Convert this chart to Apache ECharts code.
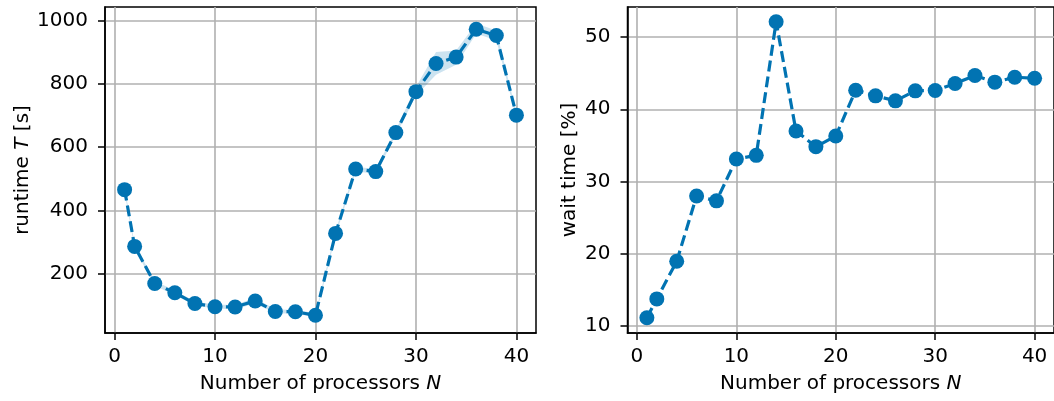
<!DOCTYPE html>
<html>
<head>
<meta charset="utf-8">
<script src="https://cdn.jsdelivr.net/npm/echarts@6/dist/echarts.min.js"></script>
<style>
  html, body { margin: 0; padding: 0; background: #fff; }
  #chart { width: 1054px; height: 401px; }
</style>
</head>
<body>
<div id="chart"></div>
<script>
// Number of processors used in each run
const processors = [1, 2, 4, 6, 8, 10, 12, 14, 16, 18, 20, 22, 24, 26, 28, 30, 32, 34, 36, 38, 40];

// Mean runtime in seconds, with the lower / upper edge of its spread
const runtime     = [466, 287, 170, 141, 107, 97, 96, 115, 82, 81, 70, 328, 531, 523, 646, 775, 864, 884, 972, 952, 701];
const runtimeLow  = [458, 280, 163, 134, 101, 91, 89, 107, 76, 75, 64, 320, 524, 515, 638, 762, 828, 860, 958, 937, 693];
const runtimeHigh = [474, 294, 178, 148, 113, 103, 103, 124, 88, 87, 76, 336, 538, 531, 654, 790, 900, 905, 990, 968, 709];

// Share of the runtime spent waiting, in percent
const waitTime = [11.15, 13.77, 18.97, 28.0, 27.33, 33.13, 33.63, 52.1, 36.99, 34.83, 36.3,
                  42.64, 41.86, 41.17, 42.55, 42.6, 43.56, 44.67, 43.75, 44.44, 44.3];

// Tick labels
const xTicks = [0, 10, 20, 30, 40];
const runtimeTicks = [200, 400, 600, 800, 1000];
const waitTicks = [10, 20, 30, 40, 50];

const BLUE = '#0173b2';
const FONT = 'DejaVu Sans';
const FS = 20;

const pairs = (xs, ys) => xs.map((x, i) => [x, ys[i]]);

const nameStyle = {
  fontFamily: FONT, fontSize: FS, color: '#000',
  rich: { i: { fontFamily: FONT, fontSize: FS, fontStyle: 'italic', color: '#000' } }
};
const spine = { color: '#000', width: 1.5 };
const gridLine = { show: true, lineStyle: { color: '#b0b0b0', width: 1.6 } };

function xAxisFor(gridIndex) {
  return {
    gridIndex,
    type: 'value',
    min: -0.95,
    max: 41.95,
    name: 'Number of processors {i|N}',
    nameLocation: 'middle',
    nameGap: 41,
    nameTextStyle: nameStyle,
    axisLine: { show: true, onZero: false, lineStyle: spine },
    axisTick: { show: true, length: 7, customValues: xTicks, lineStyle: spine },
    axisLabel: { customValues: xTicks, margin: 14, fontFamily: FONT, fontSize: FS, color: '#000' },
    splitLine: gridLine
  };
}

function yAxisFor(gridIndex, min, max, ticks, name, nameGap) {
  return {
    gridIndex,
    type: 'value',
    min, max,
    name,
    nameLocation: 'middle',
    nameGap,
    nameRotate: 90,
    nameTextStyle: nameStyle,
    axisLine: { show: true, onZero: false, lineStyle: spine },
    axisTick: { show: true, length: 7, customValues: ticks, lineStyle: spine },
    axisLabel: {
      customValues: ticks, margin: 17, fontFamily: FONT, fontSize: FS, color: '#000',
      formatter: v => String(v)
    },
    splitLine: gridLine
  };
}

const markerLine = {
  type: 'line',
  symbol: 'circle',
  symbolSize: 15,
  showSymbol: true,
  itemStyle: { color: BLUE },
  lineStyle: { color: BLUE, width: 3.2, type: [11, 5] },
  z: 5
};

// Shaded spread: one polygon through the upper edge and back along the lower edge
function renderBand(params, api) {
  if (params.dataIndexInside !== 0) return null;
  const n = params.dataInsideLength;
  const upper = [], lower = [];
  for (let i = 0; i < n; i++) {
    upper.push(api.coord([api.value(0, i), api.value(2, i)]));
    lower.push(api.coord([api.value(0, i), api.value(1, i)]));
  }
  return {
    type: 'polygon',
    shape: { points: upper.concat(lower.reverse()) },
    style: { fill: 'rgba(1,115,178,0.2)' }
  };
}

const chart = echarts.init(document.getElementById('chart'), null, { renderer: 'canvas' });
chart.setOption({
  animation: false,
  backgroundColor: '#fff',
  grid: [
    { left: 105, right: 518, top: 7, bottom: 68, show: true, borderColor: '#000', borderWidth: 1.5, backgroundColor: 'transparent' },
    { left: 627.5, right: -4.6, top: 7, bottom: 68, show: true, borderColor: '#000', borderWidth: 1.5, backgroundColor: 'transparent' }
  ],
  xAxis: [xAxisFor(0), xAxisFor(1)],
  yAxis: [
    yAxisFor(0, 14, 1042, runtimeTicks, 'runtime {i|T} [s]', 71),
    yAxisFor(1, 9.05, 54.15, waitTicks, 'wait time [%]', 48)
  ],
  series: [
    {
      type: 'custom',
      xAxisIndex: 0, yAxisIndex: 0,
      data: processors.map((n, i) => [n, runtimeLow[i], runtimeHigh[i]]),
      encode: { x: 0, y: [1, 2] },
      renderItem: renderBand,
      silent: true,
      z: 2
    },
    Object.assign({}, markerLine, { xAxisIndex: 0, yAxisIndex: 0, data: pairs(processors, runtime) }),
    Object.assign({}, markerLine, { xAxisIndex: 1, yAxisIndex: 1, data: pairs(processors, waitTime) })
  ]
});
</script>
</body>
</html>
